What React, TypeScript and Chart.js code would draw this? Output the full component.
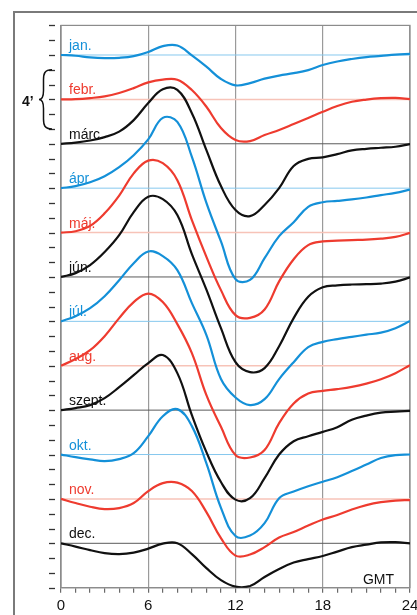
import { useEffect, useRef } from "react";
import { Chart, registerables } from "chart.js";

Chart.register(...registerables);

const FONT = '"Liberation Sans", Arial, Helvetica, sans-serif';

// Hours of the day (GMT)
const hours = [0, 1, 2, 3, 4, 5, 6, 7, 8, 9, 10, 11, 12, 13, 14, 15, 16, 17, 18, 19, 20, 21, 22, 23, 24];

// Month labels (Hungarian)
const monthNames = ["jan.", "febr.", "márc.", "ápr.", "máj.", "jún.", "júl.", "aug.", "szept.", "okt.", "nov.", "dec."];

// Deviation from each month's baseline, in arc minutes, hourly
const jan = [0, -0.05, -0.16, -0.21, -0.19, -0.08, 0.2, 0.6, 0.64, -0.03, -0.79, -1.62, -2.05, -1.9, -1.6, -1.39, -1.23, -1.02, -0.68, -0.44, -0.27, -0.14, -0.06, 0.03, 0.07];
const feb = [0, 0.02, 0.09, 0.2, 0.43, 0.76, 1.15, 1.34, 1.33, 0.63, -0.5, -1.94, -2.75, -2.82, -2.41, -2.07, -1.67, -1.26, -0.84, -0.45, -0.16, -0.01, 0.08, 0.1, 0.02];
const mar = [0, 0.08, 0.22, 0.45, 0.82, 1.6, 2.75, 3.68, 3.64, 2.07, -0.43, -2.86, -4.48, -4.89, -4.14, -3.0, -1.5, -1.02, -0.92, -0.7, -0.45, -0.34, -0.27, -0.2, -0.02];
const apr = [0, 0.14, 0.4, 0.81, 1.42, 2.23, 3.3, 4.75, 4.48, 2.11, -1.0, -3.6, -6.15, -6.2, -4.73, -3.24, -2.3, -1.26, -0.95, -0.86, -0.76, -0.63, -0.47, -0.32, -0.1];
const may = [0, 0.09, 0.45, 1.3, 2.5, 4.0, 4.86, 4.69, 3.54, 0.84, -1.64, -3.89, -5.58, -5.76, -5.2, -3.3, -1.8, -0.85, -0.6, -0.55, -0.51, -0.48, -0.41, -0.29, -0.02];
const jun = [0, 0.26, 0.8, 1.68, 2.82, 4.38, 5.42, 5.26, 4.18, 1.54, -0.86, -3.46, -5.76, -6.43, -6.16, -4.68, -2.78, -1.34, -0.7, -0.57, -0.51, -0.49, -0.45, -0.32, -0.03];
const jul = [0, 0.35, 0.89, 1.7, 2.78, 3.93, 4.72, 4.41, 3.46, 1.23, -0.93, -3.9, -5.15, -5.66, -5.26, -3.9, -2.76, -1.74, -1.39, -1.2, -1.05, -0.9, -0.76, -0.46, 0.03];
const aug = [0, 0.45, 1.05, 2.0, 3.22, 4.3, 4.88, 4.3, 2.81, 0.85, -1.99, -4.13, -6.04, -6.2, -5.7, -3.88, -2.55, -1.88, -1.7, -1.58, -1.43, -1.21, -0.91, -0.5, 0.04];
const sep = [0, 0.14, 0.34, 0.81, 1.55, 2.36, 3.18, 3.72, 2.5, -0.34, -2.84, -4.86, -6.05, -5.95, -4.6, -3.0, -2.1, -1.76, -1.47, -1.15, -0.65, -0.37, -0.17, -0.1, -0.05];
const oct = [0, -0.18, -0.33, -0.45, -0.31, 0.09, 1.24, 2.59, 3.07, 1.92, -0.6, -3.6, -5.51, -5.48, -4.64, -2.95, -2.5, -2.14, -1.84, -1.53, -1.12, -0.68, -0.24, -0.04, 0];
const nov = [0, -0.28, -0.53, -0.69, -0.62, -0.28, 0.53, 1.07, 1.1, 0.53, -0.89, -2.65, -3.83, -3.76, -3.26, -2.61, -2.24, -1.8, -1.39, -1.09, -0.72, -0.42, -0.22, -0.11, -0.08];
const dec = [0, -0.22, -0.46, -0.66, -0.73, -0.63, -0.36, -0.02, 0.01, -0.73, -1.68, -2.49, -2.93, -2.89, -2.28, -1.74, -1.3, -1.07, -0.86, -0.56, -0.26, -0.09, 0.06, 0.08, 0];

const series = [jan, feb, mar, apr, may, jun, jul, aug, sep, oct, nov, dec];

// Vertical offsets of each month's baseline (arc minutes)
const baselines = [36, 33, 30, 27, 24, 21, 18, 15, 12, 9, 6, 3];

// X axis labelled ticks
const xTickLabels = [0, 6, 12, 18, 24];

const BLUE = "#1490d8";
const RED = "#ee3b2f";
const BLACK = "#111111";
const monthColors = [BLUE, RED, BLACK, BLUE, RED, BLACK, BLUE, RED, BLACK, BLUE, RED, BLACK];
const baseColors = ["#86c8ee", "#f7c3b8", "#5a5a5a", "#86c8ee", "#f7c3b8", "#5a5a5a", "#86c8ee", "#f7c3b8", "#5a5a5a", "#86c8ee", "#f7c3b8", "#5a5a5a"];

const decor = {
  id: "decor",
  beforeDatasetsDraw(chart: any) {
    const { ctx, chartArea: a, scales } = chart;
    const x = scales.x;
    const y = scales.y;
    ctx.save();
    // outer frame
    ctx.strokeStyle = "#7a7a7a";
    ctx.lineWidth = 2;
    ctx.beginPath();
    ctx.moveTo(14, 640);
    ctx.lineTo(14, 12);
    ctx.lineTo(440, 12);
    ctx.stroke();
    // plot border
    ctx.strokeStyle = "#8c8c8c";
    ctx.lineWidth = 1.2;
    ctx.strokeRect(a.left, a.top, a.right - a.left, a.bottom - a.top);
    // y minor ticks (detached from axis)
    ctx.strokeStyle = "#333";
    ctx.lineWidth = 1.3;
    for (let v = 0; v <= 38; v++) {
      const py = Math.round(y.getPixelForValue(v)) + 0.5;
      ctx.beginPath();
      ctx.moveTo(a.left - 12, py);
      ctx.lineTo(a.left - 6, py);
      ctx.stroke();
    }
    // month labels
    ctx.font = `14px ${FONT}`;
    ctx.textBaseline = "alphabetic";
    ctx.textAlign = "left";
    monthNames.forEach((n, i) => {
      ctx.fillStyle = monthColors[i];
      ctx.fillText(n, x.getPixelForValue(0) + 8, y.getPixelForValue(baselines[i]) - 5);
    });
    // 4' brace
    const y1 = y.getPixelForValue(35);
    const y2 = y.getPixelForValue(31);
    const ym = y.getPixelForValue(33);
    const sx = 43.5, ex = 52, tx = 39;
    ctx.strokeStyle = "#111";
    ctx.lineWidth = 1.5;
    ctx.beginPath();
    ctx.moveTo(ex, y1);
    ctx.bezierCurveTo(sx + 1, y1, sx, y1 + 4, sx, y1 + 10);
    ctx.lineTo(sx, ym - 9);
    ctx.bezierCurveTo(sx, ym - 3, sx - 2, ym, tx, ym);
    ctx.bezierCurveTo(sx - 2, ym, sx, ym + 3, sx, ym + 9);
    ctx.lineTo(sx, y2 - 10);
    ctx.bezierCurveTo(sx, y2 - 4, sx + 1, y2, ex, y2);
    ctx.stroke();
    ctx.fillStyle = "#111";
    ctx.font = `bold 14px ${FONT}`;
    ctx.fillText("4\u2019", 22, ym + 7);
    // GMT
    ctx.font = `14px ${FONT}`;
    ctx.textAlign = "right";
    ctx.fillText("GMT", a.right - 16, a.bottom - 4);
    ctx.restore();
  },
};

export default function App() {
  const ref = useRef<HTMLCanvasElement | null>(null);
  useEffect(() => {
    if (!ref.current) return;
    const curveSets = series.map((s, i) => ({
      label: monthNames[i],
      data: s.map((d, k) => ({ x: hours[k], y: baselines[i] + d })),
      borderColor: monthColors[i],
      borderWidth: 2.2,
      pointRadius: 0,
      tension: 0.4,
      fill: false,
      order: 0,
    }));
    const baseSets = baselines.map((b, i) => ({
      label: monthNames[i] + " base",
      data: [
        { x: hours[0], y: b },
        { x: hours[hours.length - 1], y: b },
      ],
      borderColor: baseColors[i],
      borderWidth: i % 3 === 1 ? 1.5 : 1,
      pointRadius: 0,
      tension: 0,
      fill: false,
      order: 1,
    }));
    const chart = new Chart(ref.current, {
      type: "line",
      data: { datasets: [...curveSets, ...baseSets] as any },
      plugins: [decor],
      options: {
        animation: false,
        responsive: false,
        maintainAspectRatio: false,
        layout: { padding: { top: 25.4, right: 7, left: 0, bottom: 0 } },
        plugins: { legend: { display: false }, tooltip: { enabled: false } },
        elements: { point: { radius: 0 } },
        scales: {
          x: {
            type: "linear",
            min: 0,
            max: 24,
            afterFit(s: any) {
              s.height = 27.3;
              s.paddingLeft = 0;
              s.paddingRight = 0;
            },
            ticks: {
              stepSize: 1,
              autoSkip: false,
              maxRotation: 0,
              padding: 4,
              color: "#111",
              font: { size: 15, family: FONT },
              callback: (v: any) => (xTickLabels.includes(Number(v)) ? String(v) : ""),
            },
            grid: {
              color: (c: any) => (c.tick && xTickLabels.includes(c.tick.value) ? "#9a9a9a" : "rgba(0,0,0,0)"),
              tickColor: "#6a6a6a",
              tickLength: 5,
              lineWidth: 1.2,
            },
            border: { color: "#8c8c8c", width: 1.2 },
          },
          y: {
            min: 0,
            max: 38,
            afterFit(s: any) {
              s.width = 61;
            },
            ticks: { display: false },
            grid: { display: false },
            border: { display: true, color: "#8c8c8c", width: 1.2 },
          },
        },
      } as any,
    });
    return () => chart.destroy();
  }, []);
  return (
    <div style={{ position: "absolute", left: 0, top: 0, width: 417, height: 615, background: "#fff" }}>
      <canvas ref={ref} width={417} height={615} style={{ width: 417, height: 615, display: "block" }} />
    </div>
  );
}
